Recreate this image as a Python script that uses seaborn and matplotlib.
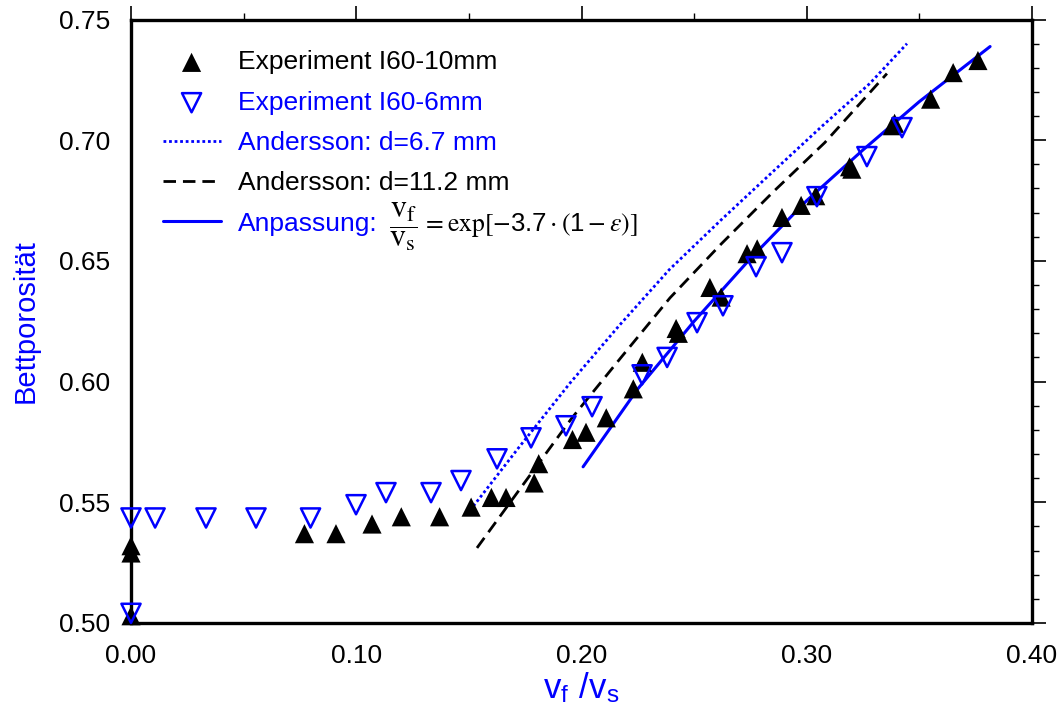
import numpy as np
import pandas as pd
import matplotlib
matplotlib.use('Agg')
import matplotlib.pyplot as plt
import seaborn as sns
from matplotlib import font_manager
from matplotlib.ticker import MultipleLocator, FormatStrFormatter

# Experiment I60-10mm (filled triangles)
exp10_x = [0.000, 0.000, 0.000, 0.077, 0.091, 0.107, 0.120, 0.137, 0.151, 0.160,
           0.1665, 0.179, 0.181, 0.196, 0.202, 0.211, 0.223, 0.227, 0.242, 0.243,
           0.257, 0.262, 0.2735, 0.278, 0.289, 0.2975, 0.304, 0.319, 0.320, 0.338,
           0.339, 0.355, 0.365, 0.376]
exp10_y = [0.532, 0.529, 0.503, 0.537, 0.537, 0.541, 0.544, 0.544, 0.548, 0.552,
           0.552, 0.558, 0.566, 0.576, 0.579, 0.585, 0.597, 0.608, 0.622, 0.620,
           0.639, 0.635, 0.653, 0.655, 0.668, 0.673, 0.677, 0.689, 0.688, 0.706,
           0.707, 0.717, 0.728, 0.733]

# Experiment I60-6mm (open inverted triangles)
exp6_x = [0.000, 0.000, 0.0107, 0.0333, 0.0555, 0.0797, 0.0999, 0.1132, 0.1332, 0.1465,
          0.1625, 0.1776, 0.1931, 0.2047, 0.2269, 0.238, 0.2513, 0.2628, 0.2775, 0.289,
          0.3045, 0.3267, 0.3423]
exp6_y = [0.5435, 0.504, 0.5435, 0.5435, 0.5435, 0.5435, 0.549, 0.554, 0.554, 0.559,
          0.568, 0.5767, 0.5817, 0.5896, 0.6028, 0.610, 0.6244, 0.6314, 0.6476, 0.6534,
          0.6766, 0.6932, 0.7052]

# Andersson curves
and67_x = [0.149, 0.172, 0.195, 0.217, 0.239, 0.262, 0.285, 0.307, 0.328, 0.3445]
and67_y = [0.5448, 0.5725, 0.5995, 0.6235, 0.6464, 0.6670, 0.6870, 0.7060, 0.7235, 0.740]
and112_x = [0.1536, 0.175, 0.1958, 0.218, 0.2393, 0.262, 0.285, 0.308, 0.3356]
and112_y = [0.5311, 0.5585, 0.5850, 0.6105, 0.6347, 0.6570, 0.6785, 0.6990, 0.7276]

# Anpassung (fit)
fit_x = [0.2007, 0.225, 0.250, 0.275, 0.300, 0.325, 0.350, 0.3814]
fit_y = [0.5647, 0.597, 0.625, 0.651, 0.675, 0.696, 0.716, 0.7388]

sns.set_style('white')
plt.rcParams['font.family'] = ['Liberation Sans', 'DejaVu Sans']
plt.rcParams['mathtext.fontset'] = 'stix'

installed = {f.name for f in font_manager.fontManager.ttflist}
if 'Liberation Sans Narrow' in installed:
    tick_font, tick_size = 'Liberation Sans Narrow', 23
else:
    tick_font, tick_size = 'Liberation Sans', 19

BLUE = '#0000ff'

fig = plt.figure(figsize=(10.62, 7.15), dpi=100)
ax = fig.add_axes([131 / 1062, 1 - 623 / 715, 901 / 1062, 603.5 / 715])

sns.lineplot(x=and67_x, y=and67_y, ax=ax, color=BLUE, lw=2.0, linestyle=(0, (1, 1)),
             sort=False, estimator=None, label='Andersson: d=6.7 mm')
sns.lineplot(x=and112_x, y=and112_y, ax=ax, color='black', lw=2.0, linestyle=(0, (4.5, 2.5)),
             sort=False, estimator=None, label='Andersson: d=11.2 mm')
sns.lineplot(x=fit_x, y=fit_y, ax=ax, color=BLUE, lw=2.2,
             sort=False, estimator=None, label='Anpassung:')
sns.scatterplot(x=exp10_x, y=exp10_y, ax=ax, marker='^', s=190, color='black',
                edgecolor='none', label='Experiment I60-10mm', zorder=5, clip_on=False)
sns.scatterplot(x=exp6_x, y=exp6_y, ax=ax, marker='v', s=190, facecolor='none',
                edgecolor=BLUE, linewidth=1.8, label='Experiment I60-6mm', zorder=6,
                clip_on=False)

ax.set_xlim(0, 0.40)
ax.set_ylim(0.50, 0.75)
ax.xaxis.set_major_locator(MultipleLocator(0.1))
ax.xaxis.set_minor_locator(MultipleLocator(0.05))
ax.yaxis.set_major_locator(MultipleLocator(0.05))
ax.yaxis.set_minor_locator(MultipleLocator(0.01))
ax.xaxis.set_major_formatter(FormatStrFormatter('%.2f'))
ax.yaxis.set_major_formatter(FormatStrFormatter('%.2f'))
ax.tick_params(which='both', direction='out', top=True, right=True,
               labeltop=False, labelright=False, colors='black')
ax.tick_params(which='major', length=10, width=1.2, labelsize=tick_size, pad=5)
ax.tick_params(which='minor', length=5, width=1.0)
for sp in ax.spines.values():
    sp.set_linewidth(2.4)
    sp.set_color('black')
    sp.set_visible(True)
for lab in ax.get_xticklabels() + ax.get_yticklabels():
    lab.set_family([tick_font, 'DejaVu Sans'])

ax.set_xlabel('v$_\\mathregular{f}$ /v$_\\mathregular{s}$', color=BLUE, fontsize=25, labelpad=2)
ax.set_ylabel('Bettporosität', color=BLUE, fontsize=21, labelpad=14)

handles, labels = ax.get_legend_handles_labels()
order = [3, 4, 0, 1, 2]
leg = ax.legend([handles[i] for i in order], [labels[i] for i in order],
                loc='upper left', bbox_to_anchor=(0.035, 0.949), frameon=False,
                fontsize=19, handlelength=2.2, handletextpad=0.65, labelspacing=0.62,
                borderpad=0, borderaxespad=0,
                labelcolor=['black', BLUE, BLUE, 'black', BLUE])

# formula after the "Anpassung:" entry: big fraction, then exp term
fig.canvas.draw()
bb = leg.get_texts()[-1].get_window_extent()
inv = ax.transAxes.inverted()
row_y = (bb.y0 + bb.y1) / 2 - 3
fx, fy = inv.transform((bb.x1 + 12, row_y))
frac = ax.text(fx, fy, r'$\dfrac{\mathrm{v_f}}{\mathrm{v_s}}$', transform=ax.transAxes,
               va='center', ha='left', fontsize=23, color='black')
fig.canvas.draw()
fb = frac.get_window_extent()
ex, ey = inv.transform((fb.x1 + 4, row_y + 2))
ax.text(ex, ey,
        r'$= \mathrm{exp}\left[-\mathregular{3.7}\cdot\left(\mathregular{1}-\varepsilon\right)\right]$',
        transform=ax.transAxes, va='center', ha='left', fontsize=18.5, color='black')

fig.savefig('out.png', dpi=100)
